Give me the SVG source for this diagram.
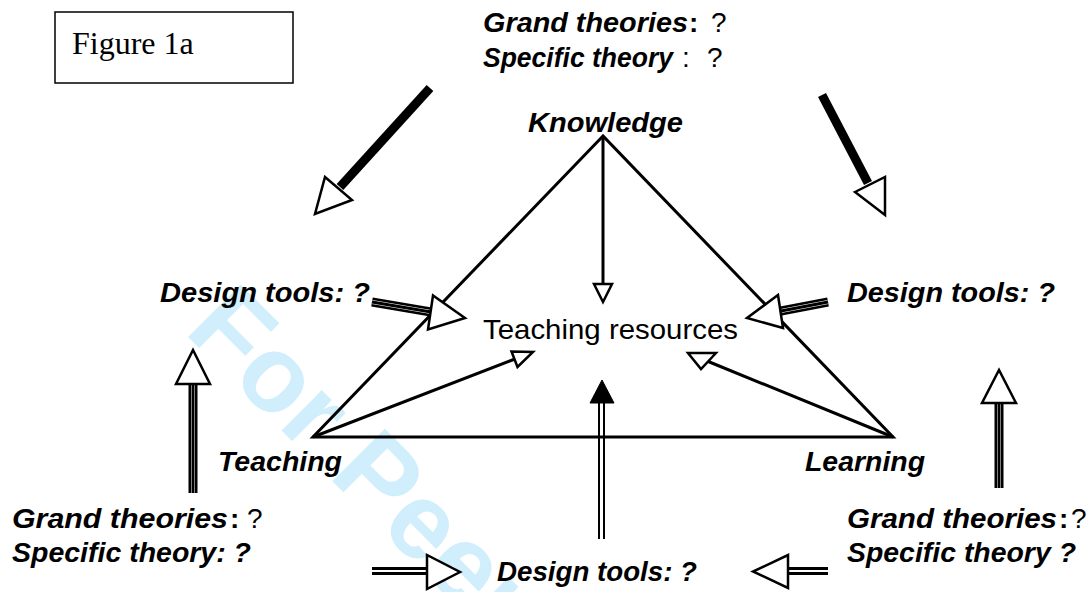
<svg xmlns="http://www.w3.org/2000/svg" width="1087" height="592" viewBox="0 0 1087 592">
<style>
text{font-family:"Liberation Sans",Arial,sans-serif;font-size:28px;fill:#000}
.bi{font-weight:bold;font-style:italic}
.r{font-weight:normal;font-style:normal}
.b{font-weight:bold;font-style:normal}
.ln{stroke:#000;stroke-width:3;fill:none}
.open{fill:#fff;stroke:#000;stroke-width:2.5;stroke-linejoin:miter}
.solid{fill:#000;stroke:#000;stroke-width:1}
.thick{stroke:#000;stroke-width:9;fill:none}
.wgap{stroke:#fff;stroke-width:4;fill:none}
.core{stroke:#000;stroke-width:3;fill:none}
.dbl{stroke:#000;stroke-width:8;fill:none}
.dgap{stroke:#fff;stroke-width:1.8;fill:none}
</style>
<rect width="1087" height="592" fill="#fff"/>
<g id="watermark">
<text transform="translate(183,332) rotate(45)" style="font-size:108px;font-weight:bold;fill:#d0eefc">For Peer Review</text>
</g>
<g id="figure-label">
<rect x="55" y="12" width="238" height="71" fill="#fff" stroke="#000" stroke-width="1.5"/>
<text x="72" y="54" style="font-family:'Liberation Serif','Times New Roman',serif;font-size:32px">Figure 1a</text>
</g>
<g id="triangle">
<polygon points="603,136 313,437 893,437" class="ln" stroke-linejoin="miter"/>
</g>
<g id="knowledge"><text x="528" y="132" class="bi" textLength="155" lengthAdjust="spacingAndGlyphs">Knowledge</text></g>
<g id="teaching"><text x="218" y="471" class="bi" textLength="124" lengthAdjust="spacingAndGlyphs">Teaching</text></g>
<g id="learning"><text x="805" y="471" class="bi" textLength="120" lengthAdjust="spacingAndGlyphs">Learning</text></g>
<g id="resources"><text x="483" y="339" class="r" textLength="255" lengthAdjust="spacingAndGlyphs">Teaching resources</text></g>
<g id="theory-top">
<text x="483" y="32" class="bi"><tspan textLength="205" lengthAdjust="spacingAndGlyphs">Grand theories</tspan><tspan x="689" class="b">:</tspan><tspan x="711" class="r">?</tspan></text>
<text x="483" y="67" class="bi"><tspan textLength="190" lengthAdjust="spacingAndGlyphs">Specific theory</tspan><tspan x="682" class="r">:</tspan><tspan x="707" class="r">?</tspan></text>
</g>
<g id="theory-left">
<text x="12" y="528" class="bi"><tspan textLength="216" lengthAdjust="spacingAndGlyphs">Grand theories</tspan><tspan x="230" class="b">:</tspan><tspan x="247" class="r">?</tspan></text>
<text x="12" y="562" class="bi" textLength="239" lengthAdjust="spacingAndGlyphs">Specific theory: ?</text>
</g>
<g id="theory-right">
<text x="847" y="528" class="bi"><tspan textLength="210" lengthAdjust="spacingAndGlyphs">Grand theories</tspan><tspan x="1059" class="b">:</tspan><tspan x="1071" class="r">?</tspan></text>
<text x="847" y="562" class="bi" textLength="229" lengthAdjust="spacingAndGlyphs">Specific theory ?</text>
</g>
<g id="design-left"><text x="160" y="302" class="bi" textLength="210" lengthAdjust="spacingAndGlyphs">Design tools: ?</text></g>
<g id="design-right"><text x="847" y="302" class="bi" textLength="208" lengthAdjust="spacingAndGlyphs">Design tools: ?</text></g>
<g id="design-bottom"><text x="497" y="581" class="bi" textLength="200" lengthAdjust="spacingAndGlyphs">Design tools: ?</text></g>
<g id="connectors">
<line x1="603" y1="136" x2="603" y2="284" class="ln" stroke-width="2.5"/>
<polygon points="594,284 612,284 603,302" class="open" stroke-width="2"/>
<line x1="313" y1="437" x2="515" y2="359" class="ln"/>
<polygon points="511.5,351.5 517.5,367 533,352" class="open" stroke-width="2"/>
<line x1="893" y1="437" x2="707" y2="361" class="ln"/>
<polygon points="716,353 701,369 688,353" class="open" stroke-width="2"/>
<line x1="599" y1="400" x2="599" y2="539" stroke="#000" stroke-width="2"/>
<line x1="604" y1="400" x2="604" y2="539" stroke="#000" stroke-width="2"/>
<polygon points="590,403 614,403 602,380" class="solid"/>
<line x1="430" y1="88" x2="340" y2="187" class="thick"/>
<polygon points="325,177 352,200 315,214" class="open"/>
<line x1="822" y1="95" x2="868" y2="183" class="thick"/>
<polygon points="855,192 885,177 885,215" class="open"/>
<g>
<line x1="372" y1="302" x2="431" y2="312" class="thick"/>
<line x1="372" y1="302" x2="431" y2="312" class="wgap"/>
<line x1="372" y1="302" x2="431" y2="312" class="core"/>
<polygon points="433,295.5 428,329.5 465,318" class="open"/>
</g>
<g>
<line x1="828" y1="302" x2="781" y2="311" class="thick"/>
<line x1="828" y1="302" x2="781" y2="311" class="wgap"/>
<line x1="828" y1="302" x2="781" y2="311" class="core"/>
<polygon points="778,295 783,328 747,318" class="open"/>
</g>
<g>
<line x1="193" y1="493" x2="193" y2="384" class="thick"/>
<line x1="193" y1="493" x2="193" y2="384" class="wgap"/>
<line x1="193" y1="493" x2="193" y2="384" class="core"/>
<polygon points="176,384 210,384 193,350" class="open"/>
</g>
<g>
<line x1="999" y1="488" x2="999" y2="403" class="thick"/>
<line x1="999" y1="488" x2="999" y2="403" class="wgap"/>
<line x1="999" y1="488" x2="999" y2="403" class="core"/>
<polygon points="982,403 1016,403 999,370" class="open"/>
</g>
<g>
<line x1="372" y1="571" x2="428" y2="571" class="dbl"/>
<line x1="372" y1="571" x2="428" y2="571" class="dgap"/>
<polygon points="427,555 427,589 460,572" class="open"/>
</g>
<g>
<line x1="828" y1="571" x2="787" y2="571" class="dbl"/>
<line x1="828" y1="571" x2="787" y2="571" class="dgap"/>
<polygon points="788,555 788,588 753,571.5" class="open"/>
</g>
</g>
</svg>
